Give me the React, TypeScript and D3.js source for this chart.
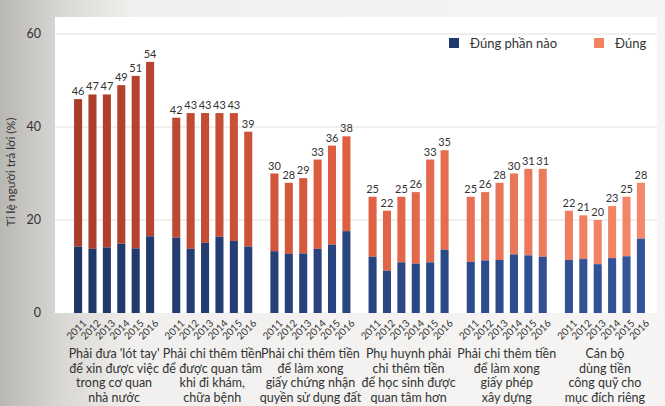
import React from "react";
import * as d3 from "d3";

const years = ["2011", "2012", "2013", "2014", "2015", "2016"];
const categories = [
  ["Phải đưa 'lót tay'", "để xin được việc", "trong cơ quan", "nhà nước"],
  ["Phải chi thêm tiền", "để được quan tâm", "khi đi khám,", "chữa bệnh"],
  ["Phải chi thêm tiền", "để làm xong", "giấy chứng nhận", "quyền sử dụng đất"],
  ["Phụ huynh phải", "chi thêm tiền", "để học sinh được", "quan tâm hơn"],
  ["Phải chi thêm tiền", "để làm xong", "giấy phép", "xây dựng"],
  ["Cán bộ", "dùng tiền", "công quỹ cho", "mục đích riêng"],
];
// "Đúng phần nào" (bottom, blue)
const partlyTrue = [
  [14.3, 13.8, 14.1, 14.9, 13.9, 16.5],
  [16.2, 13.8, 15.1, 16.4, 15.5, 14.3],
  [13.3, 12.7, 12.8, 13.8, 14.7, 17.6],
  [12.1, 9.1, 10.9, 10.6, 10.9, 13.6],
  [11.0, 11.3, 11.4, 12.6, 12.4, 12.1],
  [11.4, 11.6, 10.5, 11.8, 12.2, 16.0],
];
// Totals (Đúng phần nào + Đúng)
const totals = [
  [46, 47, 47, 49, 51, 54],
  [42, 43, 43, 43, 43, 39],
  [30, 28, 29, 33, 36, 38],
  [25, 22, 25, 26, 33, 35],
  [25, 26, 28, 30, 31, 31],
  [22, 21, 20, 23, 25, 28],
];
const yTicks = [0, 20, 40, 60];
const legendItems = ["Đúng phần nào", "Đúng"];

const W = 665;
const H = 406;
const font = "Lato, 'Noto Sans', sans-serif";

export default function App() {
  const y = d3.scaleLinear().domain([0, 60]).range([313, 34]);
  const gx = d3
    .scaleBand<number>()
    .domain(d3.range(categories.length))
    .range([65, 654])
    .padding(0);
  const bx = d3
    .scaleBand<string>()
    .domain(years)
    .range([-43.2, 43.2])
    .paddingInner(0.44)
    .paddingOuter(0.22);
  const bw = bx.bandwidth();

  return (
    <svg
      width={W}
      height={H}
      style={{ position: "absolute", left: 0, top: 0, fontFamily: font }}
    >
      <defs>
        <linearGradient id="bg" x1="0" x2="1" y1="0" y2="0">
          <stop offset="0" stopColor="#b9b7b4" />
          <stop offset="0.09" stopColor="#d9d7d4" />
          <stop offset="0.2" stopColor="#f1f0ee" />
          <stop offset="1" stopColor="#f6f5f3" />
        </linearGradient>
        <linearGradient id="org" gradientUnits="userSpaceOnUse" x1="60" x2="650" y1="0" y2="0">
          <stop offset="0" stopColor="#a63a27" />
          <stop offset="0.45" stopColor="#dc5c3f" />
          <stop offset="1" stopColor="#f5896b" />
        </linearGradient>
        <linearGradient id="blu" gradientUnits="userSpaceOnUse" x1="60" x2="650" y1="0" y2="0">
          <stop offset="0" stopColor="#1f3566" />
          <stop offset="1" stopColor="#33559a" />
        </linearGradient>
      </defs>
      <rect x={0} y={0} width={W} height={H} fill="url(#bg)" />
      <rect x={55} y={17} width={602} height={296} fill="#ffffff" />

      {yTicks.map((t) => (
        <g key={t}>
          {t > 0 && (
            <line x1={55} x2={657} y1={y(t)} y2={y(t)} stroke="#e2e0de" strokeWidth={1} />
          )}
          <text
            x={41}
            y={y(t)}
            dy="0.35em"
            textAnchor="end"
            fontSize={12.5}
            fill="#333"
          >
            {t}
          </text>
        </g>
      ))}

      <text
        transform={`translate(15,172) rotate(-90)`}
        textAnchor="middle"
        fontSize={12}
        fill="#333"
      >
        Tỉ lệ người trả lời (%)
      </text>

      {categories.map((lines, gi) => {
        const cx = (gx(gi) as number) + gx.bandwidth() / 2;
        return (
          <g key={gi}>
            {years.map((yr, yi) => {
              const x = cx + (bx(yr) as number);
              const p = partlyTrue[gi][yi];
              const t = totals[gi][yi];
              return (
                <g key={yr}>
                  <rect x={x} y={y(t)} width={bw} height={y(p) - y(t)} fill="url(#org)" />
                  <rect x={x} y={y(p)} width={bw} height={y(0) - y(p)} fill="url(#blu)" />
                  <text
                    x={x + bw / 2}
                    y={y(t) - 4}
                    textAnchor="middle"
                    fontSize={11}
                    fill="#333"
                  >
                    {t}
                  </text>
                  <text
                    transform={`translate(${x + bw / 2 + 4},${y(0) + 6}) rotate(-45)`}
                    textAnchor="end"
                    dy="0.7em"
                    fontSize={10}
                    fill="#333"
                  >
                    {yr}
                  </text>
                </g>
              );
            })}
            {lines.map((ln, li) => (
              <text
                key={li}
                x={cx}
                y={358 + li * 14.5}
                textAnchor="middle"
                fontSize={12.5}
                fill="#333"
              >
                {ln}
              </text>
            ))}
          </g>
        );
      })}

      {legendItems.map((lab, i) => {
        const lx = i === 0 ? 449 : 594;
        return (
          <g key={lab}>
            <rect
              x={lx}
              y={38}
              width={10}
              height={10}
              fill={i === 0 ? "#1f3a6a" : "#f2825f"}
            />
            <text x={lx + 21} y={43} dy="0.35em" fontSize={13} fill="#333">
              {lab}
            </text>
          </g>
        );
      })}
    </svg>
  );
}
